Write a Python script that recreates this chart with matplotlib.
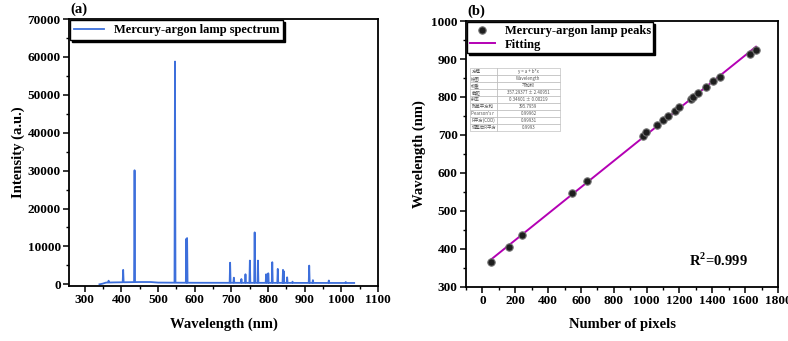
import numpy as np
import matplotlib
matplotlib.use("Agg")
import matplotlib.pyplot as plt
from matplotlib.ticker import MultipleLocator

plt.rcParams['font.family'] = ['Liberation Serif', 'DejaVu Serif']
plt.rcParams['mathtext.fontset'] = 'custom'
plt.rcParams['mathtext.rm'] = 'Liberation Serif:bold'
plt.rcParams['mathtext.bf'] = 'Liberation Serif:bold'

# ---------------- data: panel (a) spectrum ----------------
base_wl = [340, 348, 358, 380, 450, 480, 500, 600, 800, 1000, 1035]
base_int = [0, 150, 450, 500, 600, 600, 450, 400, 380, 350, 350]
peak_wl = [365.0, 404.7, 435.8, 546.1, 577.0, 579.1, 696.5, 706.7, 727.3, 738.4,
           750.4, 763.5, 772.4, 794.8, 800.6, 811.5, 826.5, 840.8, 842.5, 852.1,
           866.8, 912.3, 922.4, 965.8, 1012.0]
peak_int = [950, 3800, 30100, 58800, 12000, 12200, 5700, 1750, 1400, 2650,
            6260, 13700, 6260, 2650, 2900, 5830, 4060, 3800, 3500, 1850,
            700, 4930, 1100, 1000, 600]

# ---------------- data: panel (b) calibration ----------------
pixels = [53, 159, 243, 546, 636, 975, 999, 1062, 1097, 1130, 1172, 1197,
          1268, 1284, 1313, 1360, 1405, 1446, 1629, 1666]
wavelengths = [365.0, 404.7, 435.8, 546.1, 579.0, 696.5, 706.7, 727.3, 738.4,
               750.4, 763.5, 772.4, 794.8, 800.6, 811.5, 826.5, 841.0, 852.1,
               912.3, 922.4]

table_rows = [["方程", "y = a + b*x"],
              ["绘图", "Wavelength"],
              ["权重", "不加权"],
              ["截距", "357.29377 ± 2.40951"],
              ["斜率", "0.34601 ± 0.00219"],
              ["残差平方和", "395.7959"],
              ["Pearson's r", "0.99962"],
              ["R平方(COD)", "0.99931"],
              ["调整后R平方", "0.9993"]]

fig = plt.figure(figsize=(7.88, 3.41), dpi=100)

# ---------------- panel (a) ----------------
ax1 = fig.add_axes([0.0876, 0.1613, 0.3921, 0.7827])
hw = 1.3
vx = list(base_wl)
vy = list(base_int)
for w, h in zip(peak_wl, peak_int):
    b = float(np.interp(w, base_wl, base_int))
    vx += [w - hw, w, w + hw]
    vy += [b, h, b]
order = np.argsort(vx, kind='stable')
sx = np.array(vx)[order]
sy = np.array(vy)[order]
ax1.plot(sx, sy, color='#3D6FDB', lw=1.3, label='Mercury-argon lamp spectrum')
ax1.set_xlim(257, 1100)
ax1.set_ylim(-450, 70000)
ax1.xaxis.set_major_locator(MultipleLocator(100))
ax1.xaxis.set_minor_locator(MultipleLocator(50))
ax1.yaxis.set_major_locator(MultipleLocator(10000))
ax1.yaxis.set_minor_locator(MultipleLocator(5000))
ax1.set_xlabel('Wavelength (nm)', fontsize=10.5, fontweight='bold', labelpad=8)
ax1.set_ylabel('Intensity (a.u.)', fontsize=10.5, fontweight='bold', labelpad=2)
leg1 = ax1.legend(loc='upper left', frameon=True, fancybox=False,
                  borderaxespad=0.1, handlelength=2.4, handletextpad=0.8, borderpad=0.3,
                  prop={'weight': 'bold', 'size': 9},
                  shadow={'color': 'black', 'alpha': 1, 'ox': 1.5, 'oy': -1.5})
leg1.get_frame().set_edgecolor('black')
leg1.get_frame().set_linewidth(1.0)
ax1.text(0.005, 1.012, '(a)', transform=ax1.transAxes, fontsize=10.5,
         fontweight='bold', ha='left', va='bottom')

# ---------------- panel (b) ----------------
ax2 = fig.add_axes([0.5914, 0.1584, 0.3959, 0.78])
px = np.array(pixels, dtype=float)
wl = np.array(wavelengths, dtype=float)
slope, intercept = np.polyfit(px, wl, 1)
fx = np.array([px.min(), px.max()])
ax2.plot(fx, intercept + slope * fx, color='#B400B4', lw=1.4, label='Fitting', zorder=3)
ax2.scatter(px, wl, s=28, facecolor='#1e1e1e', edgecolor='#707070', linewidths=0.8,
            zorder=4, label='Mercury-argon lamp peaks')
ax2.set_xlim(-100, 1800)
ax2.set_ylim(300, 1000)
ax2.xaxis.set_major_locator(MultipleLocator(200))
ax2.xaxis.set_minor_locator(MultipleLocator(100))
ax2.yaxis.set_major_locator(MultipleLocator(100))
ax2.yaxis.set_minor_locator(MultipleLocator(50))
ax2.set_xlabel('Number of pixels', fontsize=10.5, fontweight='bold', labelpad=8)
ax2.set_ylabel('Wavelength (nm)', fontsize=10.5, fontweight='bold', labelpad=4)
h, l = ax2.get_legend_handles_labels()
leg2 = ax2.legend(h[::-1], l[::-1], loc='upper left', frameon=True, fancybox=False,
                  borderaxespad=0.1, handlelength=2.0, handletextpad=0.8, borderpad=0.2,
                  labelspacing=0.15,
                  prop={'weight': 'bold', 'size': 9},
                  shadow={'color': 'black', 'alpha': 1, 'ox': 1.5, 'oy': -1.5})
leg2.get_frame().set_edgecolor('black')
leg2.get_frame().set_linewidth(1.0)
ax2.text(0.005, 1.012, '(b)', transform=ax2.transAxes, fontsize=10.5,
         fontweight='bold', ha='left', va='bottom')
ax2.text(0.905, 0.10, r'R$^2$=0.999', transform=ax2.transAxes, fontsize=10.5,
         fontweight='bold', ha='right', va='center')

for ax in (ax1, ax2):
    for sp in ax.spines.values():
        sp.set_linewidth(1.3)
    ax.tick_params(which='major', direction='out', length=4, width=1.1,
                   labelsize=9.5, pad=2)
    ax.tick_params(which='minor', direction='out', length=2.2, width=1.0)
    for lab in ax.get_xticklabels() + ax.get_yticklabels():
        lab.set_fontweight('bold')

# inset fit table
tax = fig.add_axes([470 / 788, 1 - 131 / 341, 90 / 788, 63 / 341])
tax.axis('off')
tbl = tax.table(cellText=table_rows, cellLoc='center', loc='center',
                colWidths=[0.3, 0.7], bbox=[0, 0, 1, 1])
tbl.auto_set_font_size(False)
for (r, c), cell in tbl.get_celld().items():
    cell.set_edgecolor('#b0b0b0')
    cell.set_linewidth(0.4)
    cell.get_text().set_fontsize(3.2)
    cell.get_text().set_color('#555555')
    cell.get_text().set_fontfamily(['Noto Sans CJK SC', 'DejaVu Sans'])
    if c == 0:
        cell.get_text().set_horizontalalignment('left')
        cell.PAD = 0.05

fig.savefig('out.png', dpi=100)
